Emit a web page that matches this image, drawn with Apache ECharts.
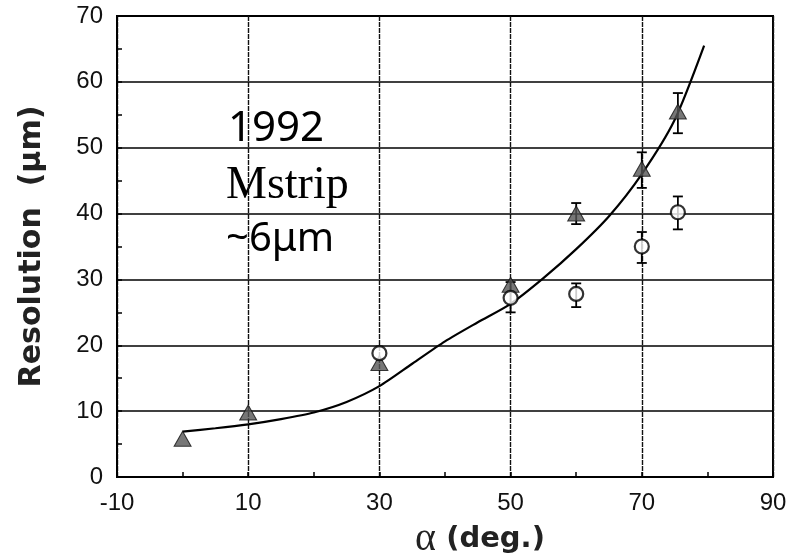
<!DOCTYPE html>
<html>
<head>
<meta charset="utf-8">
<style type="text/css">
html,body{margin:0;padding:0;background:#fff;}
#chart{width:794px;height:556px;}
</style>
<script src="https://cdn.jsdelivr.net/npm/echarts@6/dist/echarts.min.js"></script>
</head>
<body>
<div id="chart"></div>
<script type="text/javascript">
// data
var triangles = [[0, 5.8], [10, 9.8], [30, 17.3], [50, 29.2], [60, 40], [70, 46.8], [75.5, 55.5]];
var circles = [[30, 18.8], [50, 27.2], [60, 27.8], [70, 35], [75.5, 40.2]];
// [x, low, high]
var triErr = [[60, 38.4, 41.6], [70, 43.9, 49.3], [75.5, 52.2, 58.3]];
var circErr = [[50, 25, 29.6], [60, 25.8, 29.4], [70, 32.5, 37.2], [75.5, 37.6, 42.6]];
var curveX = [0, 5, 10, 15, 20, 25, 30, 35, 40, 45, 50, 55, 60, 65, 70, 75, 79.5];
var curveY = [6.9, 7.4, 8.0, 8.8, 9.8, 11.4, 13.8, 17.2, 20.6, 23.5, 26.3, 30.2, 34.6, 39.6, 46.0, 54.2, 65.5];
var noteLines = ['1992', 'Mstrip', '~6\u03bcm'];

var curve = curveX.map(function (x, i) { return [x, curveY[i]]; });

function errBar(params, api) {
    var x = api.value(0);
    var top = api.coord([x, api.value(2)]);
    var bot = api.coord([x, api.value(1)]);
    var w = 5;
    var st = {stroke: '#000', lineWidth: 1.8};
    return {
        type: 'group',
        children: [
            {type: 'line', shape: {x1: top[0], y1: top[1], x2: bot[0], y2: bot[1]}, style: st},
            {type: 'line', shape: {x1: top[0] - w, y1: top[1], x2: top[0] + w, y2: top[1]}, style: st},
            {type: 'line', shape: {x1: bot[0] - w, y1: bot[1], x2: bot[0] + w, y2: bot[1]}, style: st}
        ]
    };
}

var chart = echarts.init(document.getElementById('chart'));
var option = {
    animation: false,
    backgroundColor: '#fff',
    grid: {
        left: 117, right: 21, top: 16, bottom: 79,
        show: true, borderColor: '#000', borderWidth: 2,
        outerBoundsMode: 'none'
    },
    xAxis: {
        type: 'value', min: -10, max: 90, interval: 20,
        name: '{a|\u03b1}{b| (deg.)}',
        nameLocation: 'middle', nameGap: 33,
        nameTextStyle: {
            padding: [0, 0, 0, 70],
            rich: {
                a: {fontFamily: 'Liberation Serif', fontSize: 40, color: '#222'},
                b: {fontFamily: 'DejaVu Sans', fontWeight: 'bold', fontSize: 29, color: '#222'}
            }
        },
        axisLine: {onZero: false, lineStyle: {color: '#000', width: 2}},
        axisTick: {show: true, inside: true, length: 5, lineStyle: {color: '#000', width: 1.5}},
        minorTick: {show: true, splitNumber: 2, length: 5, lineStyle: {color: '#000', width: 1.5}},
        axisLabel: {margin: 14, fontFamily: 'Liberation Sans', fontSize: 24, color: '#111'},
        splitLine: {show: true, lineStyle: {color: '#111', width: 1.4, type: [5, 1]}}
    },
    yAxis: {
        type: 'value', min: 0, max: 70, interval: 10,
        name: 'Resolution  (\u03bcm)',
        nameLocation: 'middle', nameGap: 70,
        nameTextStyle: {fontFamily: 'DejaVu Sans', fontWeight: 'bold', fontSize: 30, color: '#222'},
        axisLine: {onZero: false, lineStyle: {color: '#000', width: 2}},
        axisTick: {show: true, inside: true, length: 5, lineStyle: {color: '#000', width: 1.5}},
        minorTick: {show: true, splitNumber: 2, length: 5, lineStyle: {color: '#000', width: 1.5}},
        axisLabel: {margin: 14, fontFamily: 'Liberation Sans', fontSize: 24, color: '#111'},
        splitLine: {show: true, lineStyle: {color: '#000', width: 1.6}}
    },
    graphic: [
        {type: 'text', left: 228, top: 108, style: {text: noteLines[0], font: '42px "Noto Sans"', fill: '#000'}},
        {type: 'text', left: 226, top: 163, style: {text: noteLines[1], font: '46px "Liberation Serif"', fill: '#000'}},
        {type: 'text', left: 226, top: 220, style: {text: noteLines[2], font: '40px "Noto Sans"', fill: '#000'}}
    ],
    series: [
        {
            type: 'line', data: curve, smooth: 0.25, symbol: 'none',
            lineStyle: {color: '#000', width: 2.2}, z: 2
        },
        {type: 'custom', renderItem: errBar, data: triErr, z: 3},
        {type: 'custom', renderItem: errBar, data: circErr, z: 3},
        {
            type: 'scatter', data: triangles, symbol: 'triangle', symbolSize: [17, 15],
            itemStyle: {color: '#555', borderColor: '#111', borderWidth: 1}, z: 4
        },
        {
            type: 'scatter', data: circles, symbol: 'circle', symbolSize: 14,
            itemStyle: {color: '#fff', borderColor: '#000', borderWidth: 2.2}, z: 5
        }
    ]
};
chart.setOption(option);
</script>
</body>
</html>
